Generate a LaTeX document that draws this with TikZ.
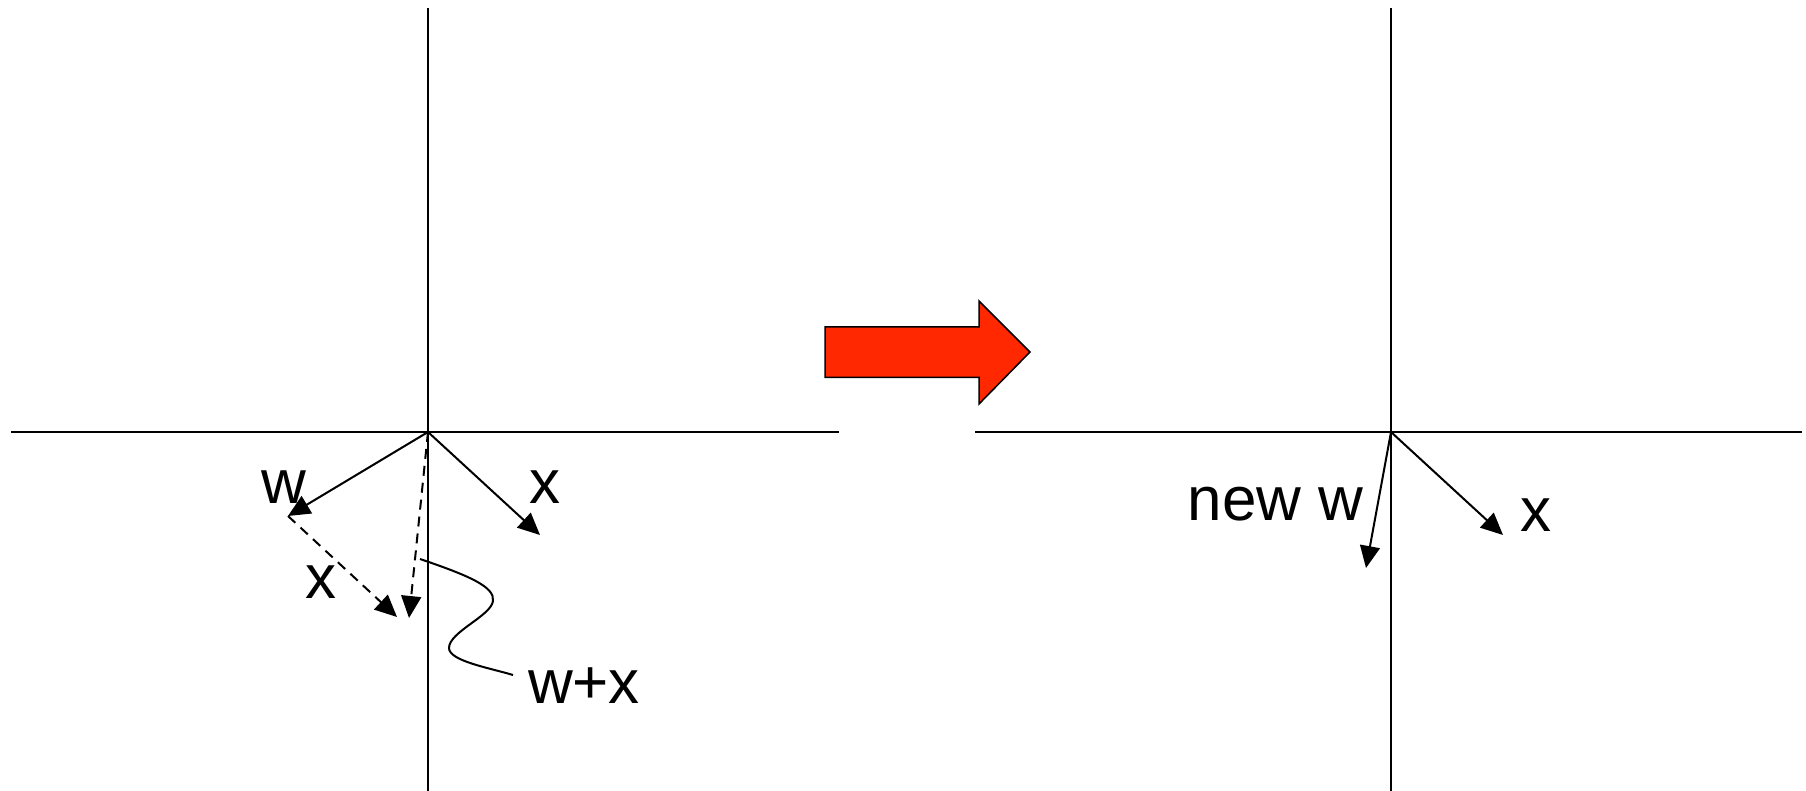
\documentclass[tikz,border=0pt]{standalone}
\usepackage{fontspec}
\setmainfont{Liberation Sans}
\usetikzlibrary{arrows.meta}
\definecolor{arrowred}{RGB}{255,40,0}
\begin{document}
\begin{tikzpicture}[x=0.5pt,y=-0.5pt,
  axis/.style={line width=1pt},
  vec/.style={line width=1pt,-{Triangle[length=11pt,width=10pt]}},
  dvec/.style={vec,dash pattern=on 5pt off 3.5pt},
  lbl/.style={inner sep=0pt,anchor=base,font=\fontsize{31}{36}\selectfont},
  wavy/.style={line width=1pt}]
\useasboundingbox (0,0) rectangle (1806,791);
% left axes
\coordinate (L1) at (11,432); \coordinate (L2) at (839,432);
\coordinate (T1) at (428,8); \coordinate (B1) at (428,791);
\draw[axis] (L1) -- (L2);
\draw[axis] (T1) -- (B1);
% right axes
\coordinate (R1) at (975,432); \coordinate (R2) at (1802,432);
\coordinate (T2) at (1391,8); \coordinate (B2) at (1391,791);
\draw[axis] (R1) -- (R2);
\draw[axis] (T2) -- (B2);
% left vectors
\coordinate (O1) at (428,432);
\coordinate (W1) at (288,516);
\coordinate (X1) at (540,535);
\coordinate (S1) at (397,617);
\coordinate (S2) at (409,618);
\draw[vec] (O1) -- (W1);
\draw[vec] (O1) -- (X1);
\draw[dvec] (W1) -- (S1);
\draw[dvec] (O1) -- (S2);
\node[lbl] (lw) at (284,503) {w};
\node[lbl] (lx) at (545,503) {x};
\node[lbl] (lx2) at (321,598) {x};
\node[lbl] (lwx) at (584,703) {w+x};
% wavy pointer
\coordinate (C0) at (420,559);
\coordinate (C1) at (493,601);
\coordinate (C2) at (449,648);
\coordinate (C3) at (513,675);
\draw[wavy] (C0) .. controls (470,576) and (495,587) .. (C1)
  .. controls (491,616) and (449,632) .. (C2)
  .. controls (449,661) and (490,668) .. (C3);
% red arrow
\draw[line width=0.75pt,fill=arrowred,line join=miter]
  (825,327) -- (979,327) -- (979,301) -- (1030,352) -- (979,404)
  -- (979,377.5) -- (825,377.5) -- cycle;
% right vectors
\coordinate (O2) at (1391,432);
\coordinate (NW) at (1366,568);
\coordinate (X2) at (1503,535);
\draw[vec] (O2) -- (NW);
\draw[vec] (O2) -- (X2);
\node[lbl] (rnw) at (1275.5,520) {new w};
\node[lbl] (rx) at (1536,531) {x};
\end{tikzpicture}
\end{document}
